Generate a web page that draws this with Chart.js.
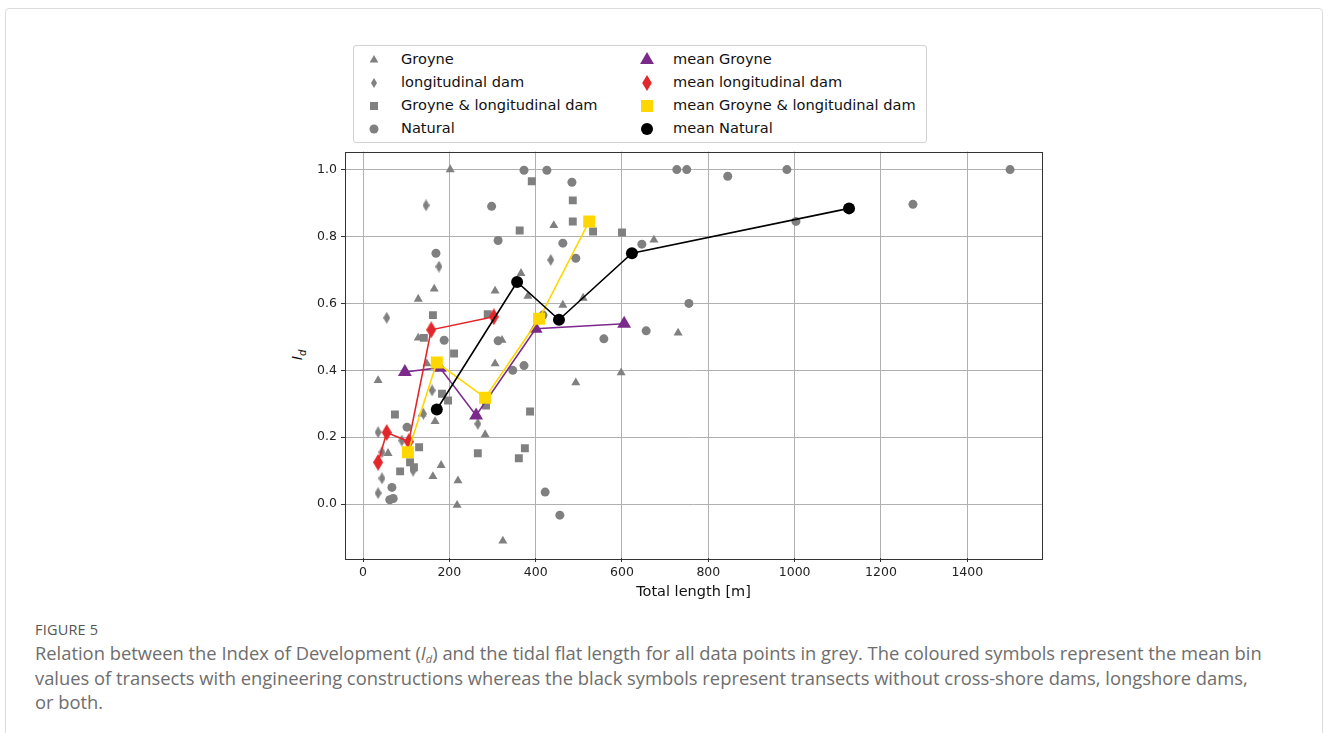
<!DOCTYPE html>
<html>
<head>
<meta charset="utf-8">
<script src="https://cdn.jsdelivr.net/npm/chart.js@4.4.0/dist/chart.umd.min.js"></script>
<style>
  body { margin:0; background:#fff; width:1328px; height:733px; position:relative; overflow:hidden; font-family:'DejaVu Sans', sans-serif; }
  .card { position:absolute; left:5px; top:8px; width:1316px; height:740px; border:1px solid #dcdcdc; border-radius:4px; }
  #wrap { position:absolute; left:280px; top:140px; width:780px; height:470px; }
  .legend { position:absolute; left:353px; top:45px; width:572px; height:96px; border:1px solid #d2d2d2; border-radius:3px; background:#fff; font-size:14.6px; color:#111; }
  .legend .mk { position:absolute; width:20px; height:20px; margin-left:-10px; margin-top:-10px; }
  .legend .tx { position:absolute; white-space:nowrap; line-height:18px; margin-top:-10px; }
  .ylab { position:absolute; left:282px; top:345px; width:30px; height:20px; text-align:center; transform:rotate(-90deg); font-size:14.5px; font-style:italic; color:#111; line-height:20px; }
  .ylab sub { font-size:10px; }
  .fig { position:absolute; left:35px; top:620px; font-family:'Open Sans', sans-serif; font-size:14.5px; color:#555; letter-spacing:0.2px; }
  .cap { position:absolute; left:35px; top:641px; font-family:'Open Sans', sans-serif; font-size:18.35px; line-height:24.5px; color:#6e6e6e; white-space:nowrap; }
  .cap sub { font-size:11px; line-height:0; vertical-align:-3px; }
</style>
</head>
<body>
<div class="card"></div>
<div class="legend" id="legend"></div>
<div class="ylab">I<sub>d</sub></div>
<div id="wrap"><canvas id="chart" width="780" height="470"></canvas></div>
<div class="fig">FIGURE 5</div>
<div class="cap">Relation between the Index of Development (<i>I<sub>d</sub></i>) and the tidal flat length for all data points in grey. The coloured symbols represent the mean bin<br>values of transects with engineering constructions whereas the black symbols represent transects without cross-shore dams, longshore dams,<br>or both.</div>
<script>
const xTicks = [0, 200, 400, 600, 800, 1000, 1200, 1400];
const yTicks = [0.0, 0.2, 0.4, 0.6, 0.8, 1.0];

// grey data points, [length, Id]
const groynePts = [
  [202, 1.0], [35, 0.37], [128, 0.613], [165, 0.643], [128, 0.497], [148, 0.42],
  [167, 0.247], [181, 0.116], [162, 0.083], [220, 0.07], [218, -0.003], [58, 0.152],
  [137, 0.27], [306, 0.637], [306, 0.42], [366, 0.69], [382, 0.622], [442, 0.833],
  [463, 0.595], [510, 0.616], [322, 0.49], [283, 0.208], [493, 0.363], [324, -0.11],
  [674, 0.79], [730, 0.512], [598, 0.393]
];
const longDamPts = [
  [146, 0.893], [176, 0.71], [55, 0.557], [35, 0.215], [44, 0.155], [116, 0.1],
  [44, 0.077], [35, 0.033], [435, 0.73], [266, 0.24], [160, 0.34], [140, 0.27], [90, 0.19]
];
const bothPts = [
  [74, 0.268], [130, 0.17], [109, 0.125], [86, 0.098], [118, 0.11], [162, 0.565],
  [289, 0.568], [141, 0.497], [211, 0.45], [183, 0.33], [197, 0.31], [391, 0.965],
  [486, 0.908], [486, 0.845], [363, 0.818], [533, 0.815], [600, 0.812], [285, 0.295],
  [387, 0.277], [375, 0.167], [266, 0.152], [361, 0.137]
];
const naturalPts = [
  [102, 0.23], [67, 0.05], [70, 0.017], [62, 0.013], [169, 0.75], [188, 0.49],
  [313, 0.488], [373, 0.998], [426, 0.998], [484, 0.962], [298, 0.89], [313, 0.788],
  [463, 0.78], [493, 0.735], [417, 0.565], [373, 0.414], [347, 0.4], [422, 0.036],
  [456, -0.033], [727, 1.0], [750, 1.0], [845, 0.98], [646, 0.777], [755, 0.6],
  [656, 0.518], [558, 0.494], [982, 1.0], [1003, 0.845], [1274, 0.896], [1499, 1.0]
];

// bin means
const meanGroyne = [[97, 0.395], [178, 0.408], [262, 0.265], [400, 0.524], [605, 0.539]];
const meanLongDam = [[35, 0.125], [55, 0.214], [106, 0.187], [158, 0.521], [303, 0.56]];
const meanBoth = [[104, 0.155], [171, 0.423], [283, 0.318], [408, 0.554], [524, 0.845]];
const meanNatural = [[171, 0.283], [357, 0.664], [454, 0.551], [623, 0.75], [1126, 0.884]];

const GREY = '#808080';
const PURPLE = '#7b2a8b';
const RED = '#e3262a';
const GOLD = '#ffd700';

function diamond(w, h, color) {
  const c = document.createElement('canvas');
  c.width = w; c.height = h;
  const g = c.getContext('2d');
  g.fillStyle = color;
  g.beginPath();
  g.moveTo(w / 2, 0);
  g.lineTo(w, h / 2);
  g.lineTo(w / 2, h);
  g.lineTo(0, h / 2);
  g.closePath();
  g.fill();
  return c;
}

const toXY = arr => arr.map(p => ({ x: p[0], y: p[1] }));

function greySet(label, pts, style, r) {
  return {
    label, data: toXY(pts), pointStyle: style, pointRadius: r,
    pointBackgroundColor: GREY, pointBorderColor: GREY, pointBorderWidth: 0,
    backgroundColor: GREY, borderColor: GREY, showLine: false, order: 9
  };
}

function meanSet(label, pts, color, style, r, order) {
  return {
    label, data: toXY(pts), pointStyle: style, pointRadius: r,
    pointBackgroundColor: color, pointBorderColor: color, pointBorderWidth: 0,
    backgroundColor: color, borderColor: color, borderWidth: 1.6,
    showLine: true, tension: 0, order
  };
}

const frame = {
  id: 'frame',
  afterDatasetsDraw(chart) {
    const a = chart.chartArea, ctx = chart.ctx;
    ctx.save();
    ctx.strokeStyle = '#333';
    ctx.lineWidth = 1;
    ctx.strokeRect(Math.round(a.left) + 0.5, Math.round(a.top) + 0.5, Math.round(a.width), Math.round(a.height));
    ctx.restore();
  }
};

new Chart(document.getElementById('chart'), {
  type: 'scatter',
  data: {
    datasets: [
      greySet('Groyne', groynePts, 'triangle', 5.2),
      greySet('longitudinal dam', longDamPts, diamond(7, 12, GREY), 5),
      greySet('Groyne & longitudinal dam', bothPts, 'rect', 5.6),
      greySet('Natural', naturalPts, 'circle', 4.5),
      meanSet('mean Groyne', meanGroyne, PURPLE, 'triangle', 8, 4),
      meanSet('mean longitudinal dam', meanLongDam, RED, diamond(10, 17, RED), 8, 3),
      meanSet('mean Groyne & longitudinal dam', meanBoth, GOLD, 'rect', 8.5, 2),
      meanSet('mean Natural', meanNatural, '#000', 'circle', 6, 1)
    ]
  },
  options: {
    responsive: false,
    animation: false,
    layout: { padding: { top: 10, right: 18, left: 0, bottom: 0 } },
    plugins: { legend: { display: false }, tooltip: { enabled: false } },
    scales: {
      x: {
        type: 'linear', min: -41.7, max: 1573,
        afterBuildTicks: s => { s.ticks = xTicks.map(v => ({ value: v })); },
        afterFit: s => { s.height = 52; },
        grid: { color: '#b0b0b0', lineWidth: 1, tickColor: '#333', tickLength: 4 },
        border: { display: false },
        ticks: { color: '#222', font: { family: 'DejaVu Sans', size: 12.5 }, padding: 3, maxRotation: 0, callback: v => String(v) },
        title: { display: true, text: 'Total length [m]', color: '#111', font: { family: 'DejaVu Sans', size: 14.5 }, padding: { top: 0, bottom: 9 } }
      },
      y: {
        type: 'linear', min: -0.161, max: 1.054,
        afterBuildTicks: s => { s.ticks = yTicks.map(v => ({ value: v })); },
        afterFit: s => { s.width = 65; },
        grid: { color: '#b0b0b0', lineWidth: 1, tickColor: '#333', tickLength: 4 },
        border: { display: false },
        ticks: { color: '#222', font: { family: 'DejaVu Sans', size: 12.5 }, padding: 4, callback: v => v.toFixed(1) }
      }
    }
  },
  plugins: [frame]
});

// legend, two columns like the original figure
const legendItems = [
  { text: 'Groyne', shape: 'tri', color: GREY, size: 5, col: 0, row: 0 },
  { text: 'longitudinal dam', shape: 'dia', color: GREY, size: 5, col: 0, row: 1 },
  { text: 'Groyne & longitudinal dam', shape: 'sq', color: GREY, size: 4, col: 0, row: 2 },
  { text: 'Natural', shape: 'circ', color: GREY, size: 4.5, col: 0, row: 3 },
  { text: 'mean Groyne', shape: 'tri', color: PURPLE, size: 8, col: 1, row: 0 },
  { text: 'mean longitudinal dam', shape: 'dia', color: RED, size: 8, col: 1, row: 1 },
  { text: 'mean Groyne & longitudinal dam', shape: 'sq', color: GOLD, size: 6, col: 1, row: 2 },
  { text: 'mean Natural', shape: 'circ', color: '#000', size: 6, col: 1, row: 3 }
];

function markerSvg(it) {
  const r = it.size;
  let body = '';
  if (it.shape === 'tri') body = `<polygon points="10,${10 - r} ${10 + r * 0.866},${10 + r / 2} ${10 - r * 0.866},${10 + r / 2}" fill="${it.color}"/>`;
  if (it.shape === 'dia') body = `<polygon points="10,${10 - r} ${10 + r * 0.6},10 10,${10 + r} ${10 - r * 0.6},10" fill="${it.color}"/>`;
  if (it.shape === 'sq') body = `<rect x="${10 - r}" y="${10 - r}" width="${2 * r}" height="${2 * r}" fill="${it.color}"/>`;
  if (it.shape === 'circ') body = `<circle cx="10" cy="10" r="${r}" fill="${it.color}"/>`;
  return `<svg width="20" height="20" viewBox="0 0 20 20">${body}</svg>`;
}

const legendEl = document.getElementById('legend');
const colMarker = [20, 293], colText = [47, 319], rowY = [14, 37, 60, 83];
legendEl.innerHTML = legendItems.map(it =>
  `<div class="mk" style="left:${colMarker[it.col]}px;top:${rowY[it.row]}px">${markerSvg(it)}</div>` +
  `<div class="tx" style="left:${colText[it.col]}px;top:${rowY[it.row]}px">${it.text}</div>`
).join('');
</script>
</body>
</html>
